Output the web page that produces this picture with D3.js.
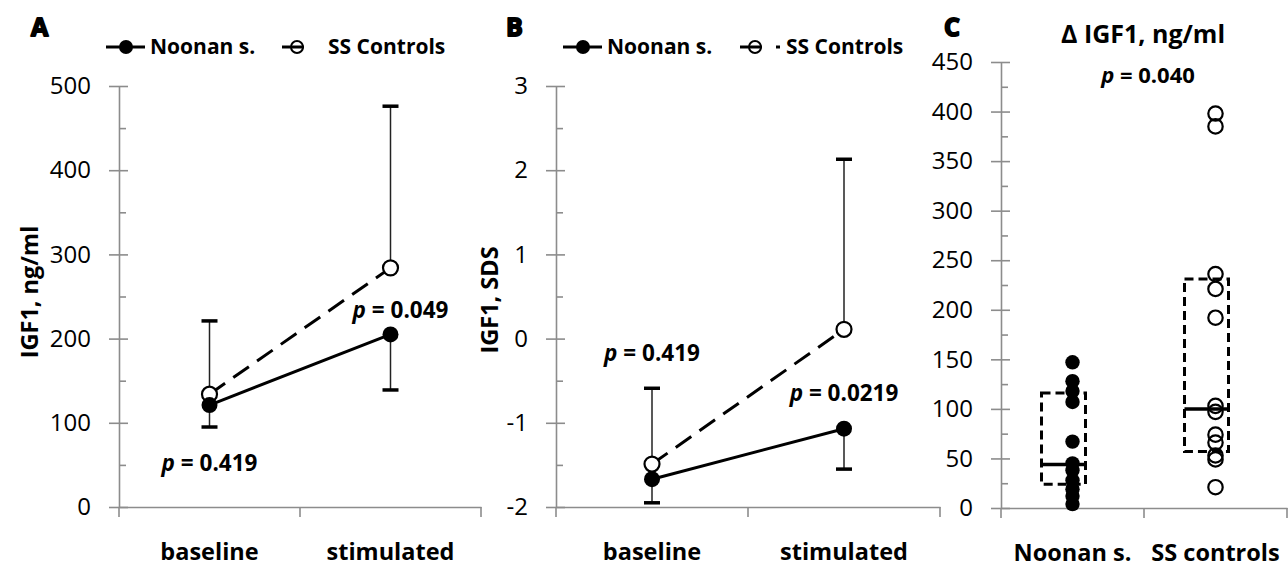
<!DOCTYPE html>
<html lang="en">
<head>
<meta charset="utf-8">
<title>IGF1 generation test</title>
<style>
body { margin: 0; background: #fff; }
text { font-family: "Open Sans", Lato, sans-serif; }
</style>
</head>
<body>
<script src="https://cdn.jsdelivr.net/npm/d3@7"></script>
<script>

// categories
var timepoints = ["baseline", "stimulated"];
var groups = ["Noonan s.", "SS controls"];

// panel A: IGF1 ng/ml (mean, one-sided SD)
var igfNoonan = [121, 205];
var igfNoonanLow = [95, 139];
var igfControls = [134, 284];
var igfControlsHigh = [221, 476];
var igfP = ["0.419", "0.049"];
var yTicksA = [0, 100, 200, 300, 400, 500];

// panel B: IGF1 SDS
var sdsNoonan = [-1.67, -1.07];
var sdsNoonanLow = [-1.95, -1.55];
var sdsControls = [-1.49, 0.11];
var sdsControlsHigh = [-0.59, 2.13];
var sdsP = ["0.419", "0.0219"];
var yTicksB = [-2, -1, 0, 1, 2, 3];

// panel C: delta IGF1 ng/ml
var deltaNoonan = [147, 128, 118, 107, 67, 45, 38, 28, 19, 12, 4];
var deltaControls = [398, 385, 236, 221, 192, 103, 97, 74, 66, 53, 49, 21];
var boxNoonan = [24, 44, 116];     // q1, median, q3
var boxControls = [57, 100, 231];
var deltaP = "0.040";
var yTicksC = [0, 50, 100, 150, 200, 250, 300, 350, 400, 450];

var svg = d3.select("body").append("svg")
            .attr("width", 1288)
            .attr("height", 568);

var axisGrey = "#8c8c8c";

function yAxis(g, y, majors, labelPad) {
	var minors = majors.slice(1).map(function(v, i) { return (v + majors[i]) / 2; });
	g.append("g")
	 .call(d3.axisLeft(y).tickValues(minors).tickSize(-7).tickSizeOuter(0).tickFormat(""))
	 .call(function(a) { a.select(".domain").remove(); });
	g.append("g")
	 .call(d3.axisLeft(y).tickValues(majors).tickSize(-9).tickSizeOuter(0).tickFormat(""))
	 .call(function(a) { a.select(".domain").remove(); });
	var lab = g.append("g")
	 .call(d3.axisLeft(y).tickValues(majors).tickSizeInner(10).tickSizeOuter(0)
	         .tickPadding(labelPad).tickFormat(function(d) { return String(d); }));
	lab.attr("font-family", null).attr("font-size", 24);
	lab.selectAll("text").attr("fill", "#000");
	g.selectAll("path, line").attr("stroke", axisGrey).attr("stroke-width", 1.6);
}

function xAxis(g, x, yPos) {
	var ax = g.append("g")
	          .attr("transform", "translate(0," + yPos + ")")
	          .call(d3.axisBottom(x).tickSize(0).tickPadding(36));
	ax.attr("font-family", null).attr("font-size", 23.5).attr("font-weight", "bold");
	ax.selectAll("text").attr("fill", "#000");
	ax.select(".domain").attr("stroke", axisGrey).attr("stroke-width", 1.6);
	var bounds = x.domain().map(function(d) { return x(d); }).concat([x.range()[1]]);
	g.selectAll(null).data(bounds).enter().append("line")
	 .attr("x1", function(d) { return d; })
	 .attr("x2", function(d) { return d; })
	 .attr("y1", yPos)
	 .attr("y2", yPos + 10)
	 .attr("stroke", axisGrey)
	 .attr("stroke-width", 1.6);
}

function pLabel(g, x, y, val, size) {
	var t = g.append("text")
	         .attr("x", x).attr("y", y)
	         .attr("text-anchor", "middle")
	         .attr("font-size", size)
	         .attr("font-weight", "bold");
	t.append("tspan").attr("font-style", "italic").text("p");
	t.append("tspan").text(" = " + val);
}

function panelLetter(g, x, letter) {
	g.append("text").attr("x", x).attr("y", 36)
	 .attr("font-family", "DejaVu Sans").attr("font-size", 25).attr("font-weight", "bold")
	 .attr("stroke", "#000").attr("stroke-width", 1.8).attr("stroke-linejoin", "round")
	 .text(letter);
}

function legend(g, x0, x1, yPos, dot) {
	g.append("line").attr("x1", x0).attr("x2", x0 + 39).attr("y1", yPos).attr("y2", yPos)
	 .attr("stroke", "#000").attr("stroke-width", 3);
	g.append("circle").attr("cx", x0 + 20).attr("cy", yPos).attr("r", 7).attr("fill", "#000");
	g.append("text").attr("x", x0 + 44).attr("y", yPos + 7)
	 .attr("font-size", 21).attr("font-weight", "bold").text("Noonan s.");
	g.append("line").attr("x1", x1).attr("x2", x1 + 22).attr("y1", yPos).attr("y2", yPos)
	 .attr("stroke", "#000").attr("stroke-width", 3);
	g.append("circle").attr("cx", x1 + 15).attr("cy", yPos).attr("r", 6)
	 .attr("fill", "none").attr("stroke", "#000").attr("stroke-width", 2);
	if (dot) {
		g.append("line").attr("x1", x1 + 36).attr("x2", x1 + 40).attr("y1", yPos).attr("y2", yPos)
		 .attr("stroke", "#000").attr("stroke-width", 3);
	}
	g.append("text").attr("x", x1 + 46).attr("y", yPos + 7)
	 .attr("font-size", 21).attr("font-weight", "bold").text("SS Controls");
}

function linePanel(o) {
	var g = svg.append("g");
	var x = d3.scaleBand(timepoints, [o.left, o.right]);
	var y = d3.scaleLinear([o.ticks[0], o.ticks[o.ticks.length - 1]], [507, 86]);
	var cx = function(d, i) { return x(timepoints[i]) + x.bandwidth() / 2; };

	g.append("g").attr("transform", "translate(" + o.left + ",0)")
	 .call(function(a) { yAxis(a, y, o.ticks, 18); });
	xAxis(g, x, 507);

	// error bars
	function bars(mean, end) {
		g.selectAll(null).data(mean).enter().append("line")
		 .attr("x1", cx).attr("x2", cx)
		 .attr("y1", function(d) { return y(d); })
		 .attr("y2", function(d, i) { return y(end[i]); })
		 .attr("stroke", "#222").attr("stroke-width", 1.5);
		g.selectAll(null).data(end).enter().append("line")
		 .attr("x1", function(d, i) { return cx(d, i) - 8; })
		 .attr("x2", function(d, i) { return cx(d, i) + 8; })
		 .attr("y1", function(d) { return y(d); })
		 .attr("y2", function(d) { return y(d); })
		 .attr("stroke", "#000").attr("stroke-width", 3.5);
	}
	bars(o.noonan, o.noonanLow);
	bars(o.controls, o.controlsHigh);

	var line = d3.line().x(cx).y(function(d) { return y(d); });
	g.append("path").datum(o.controls).attr("d", line)
	 .attr("fill", "none").attr("stroke", "#000").attr("stroke-width", 3)
	 .attr("stroke-dasharray", "19,10");
	g.append("path").datum(o.noonan).attr("d", line)
	 .attr("fill", "none").attr("stroke", "#000").attr("stroke-width", 3);

	g.selectAll(null).data(o.controls).enter().append("circle")
	 .attr("cx", cx).attr("cy", function(d) { return y(d); }).attr("r", 7.5)
	 .attr("fill", "#fff").attr("stroke", "#000").attr("stroke-width", 2.2);
	g.selectAll(null).data(o.noonan).enter().append("circle")
	 .attr("cx", cx).attr("cy", function(d) { return y(d); }).attr("r", 8)
	 .attr("fill", "#000");

	pLabel(g, cx(0, 0), y(o.pY[0]) + 8, o.p[0], 22.5);
	pLabel(g, cx(0, 1) + o.pDx, y(o.pY[1]) + 8, o.p[1], 22.5);

	g.append("text")
	 .attr("transform", "translate(" + o.titleX + "," + o.titleY + ") rotate(-90)")
	 .attr("text-anchor", "middle").attr("dy", "0.35em")
	 .attr("font-size", 23.5).attr("font-weight", "bold").text(o.title);

	panelLetter(g, o.letterX, o.letter);
	legend(g, o.legendX[0], o.legendX[1], 47, o.dot);
}

linePanel({
	left: 119, right: 481, ticks: yTicksA,
	noonan: igfNoonan, noonanLow: igfNoonanLow,
	controls: igfControls, controlsHigh: igfControlsHigh,
	p: igfP, pY: [52, 234], pDx: 10,
	title: "IGF1, ng/ml", titleX: 30, titleY: 292,
	letter: "A", letterX: 31, legendX: [106, 282], dot: false
});

linePanel({
	left: 556, right: 940, ticks: yTicksB,
	noonan: sdsNoonan, noonanLow: sdsNoonanLow,
	controls: sdsControls, controlsHigh: sdsControlsHigh,
	p: sdsP, pY: [-0.17, -0.65], pDx: 0,
	title: "IGF1, SDS", titleX: 490, titleY: 300,
	letter: "B", letterX: 506, legendX: [563, 740], dot: true
});

// panel C
var gc = svg.append("g");
var xc = d3.scaleBand(groups, [1001, 1287]);
var yc = d3.scaleLinear([0, 450], [508, 62]);
gc.append("g").attr("transform", "translate(1001,0)")
  .call(function(a) { yAxis(a, yc, yTicksC, 18); });
xAxis(gc, xc, 508);

function boxAndDots(g, name, box, vals, filled) {
	var c = xc(name) + xc.bandwidth() / 2;
	g.append("rect")
	 .attr("x", c - 31).attr("width", 44)
	 .attr("y", yc(box[2])).attr("height", yc(box[0]) - yc(box[2]))
	 .attr("fill", "none").attr("stroke", "#000").attr("stroke-width", 3)
	 .attr("stroke-dasharray", "9,5");
	g.append("line")
	 .attr("x1", c - 31).attr("x2", c + 13)
	 .attr("y1", yc(box[1])).attr("y2", yc(box[1]))
	 .attr("stroke", "#000").attr("stroke-width", 3.5);
	g.selectAll(null).data(vals).enter().append("circle")
	 .attr("cx", c).attr("cy", function(d) { return yc(d); })
	 .attr("r", 7.2)
	 .attr("fill", filled ? "#000" : "none")
	 .attr("stroke", "#000").attr("stroke-width", filled ? 0 : 2.2);
}
boxAndDots(gc, groups[0], boxNoonan, deltaNoonan, true);
boxAndDots(gc, groups[1], boxControls, deltaControls, false);

gc.append("text").attr("x", 1143).attr("y", 43)
  .attr("text-anchor", "middle").attr("font-size", 25).attr("font-weight", "bold")
  .text("\u0394  IGF1, ng/ml");
pLabel(gc, 1148, 83, deltaP, 22);
panelLetter(gc, 944, "C");

</script>
</body>
</html>
